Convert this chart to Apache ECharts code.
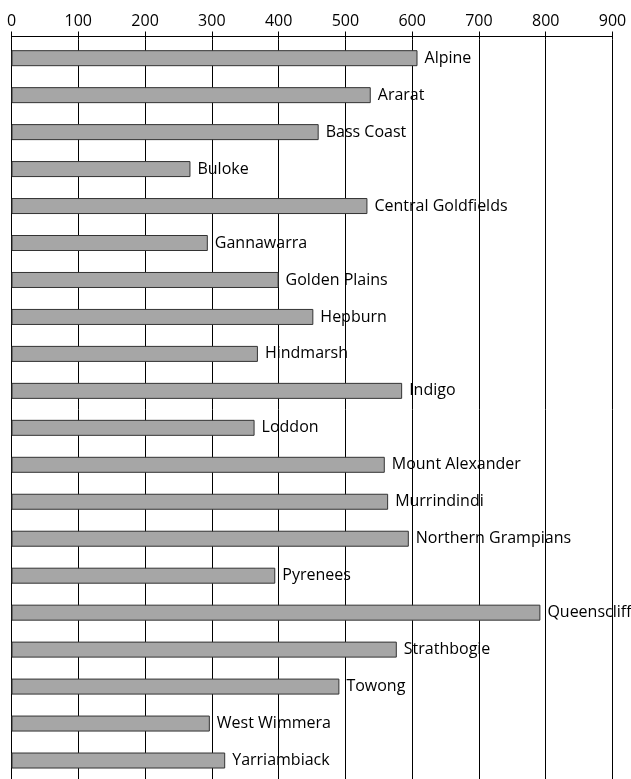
<!DOCTYPE html>
<html>
<head>
<meta charset="utf-8">
<script src="https://cdn.jsdelivr.net/npm/echarts@6/dist/echarts.min.js"></script>
<style>
  html, body { margin: 0; padding: 0; background: #fff; }
  #chart { width: 631px; height: 779px; }
</style>
</head>
<body>
<div id="chart"></div>
<script>
// Victorian councils and their values
const councils = [
  'Alpine', 'Ararat', 'Bass Coast', 'Buloke', 'Central Goldfields',
  'Gannawarra', 'Golden Plains', 'Hepburn', 'Hindmarsh', 'Indigo',
  'Loddon', 'Mount Alexander', 'Murrindindi', 'Northern Grampians', 'Pyrenees',
  'Queenscliffe', 'Strathbogie', 'Towong', 'West Wimmera', 'Yarriambiack'
];
const values = [
  608, 538, 460, 268, 533,
  294, 400, 452, 369, 585,
  364, 559, 564, 595, 395,
  792, 577, 491, 297, 320
];
// Value axis ticks
const axisMin = 0;
const axisMax = 900;
const axisStep = 100;

const font = '"Open Sans", "Noto Sans", sans-serif';
const chart = echarts.init(document.getElementById('chart'), null, { renderer: 'canvas' });

chart.setOption({
  animation: false,
  backgroundColor: '#fff',
  grid: { left: 11.5, top: 39.7, width: 601, height: 740.8, containLabel: false },
  xAxis: [
    {
      type: 'value', position: 'top', offset: 3.7,
      min: axisMin, max: axisMax, interval: axisStep,
      axisLine: { show: true, lineStyle: { color: '#000', width: 1 } },
      axisTick: { show: true, length: 4.5, lineStyle: { color: '#000', width: 1 } },
      axisLabel: { margin: 7, fontSize: 16, color: '#000', fontFamily: font },
      splitLine: { show: true, lineStyle: { color: '#000', width: 1 } }
    },
    {
      // short tick stubs joining the top axis line to the grid lines
      type: 'value', position: 'top', offset: 0,
      min: axisMin, max: axisMax, interval: axisStep,
      axisLine: { show: false },
      axisTick: { show: true, length: 3.7, lineStyle: { color: '#000', width: 1 } },
      axisLabel: { show: false },
      splitLine: { show: false }
    }
  ],
  yAxis: {
    type: 'category', inverse: true, data: councils,
    axisLine: { show: true, lineStyle: { color: '#000', width: 1 } },
    axisTick: { show: false },
    axisLabel: { show: false },
    splitLine: { show: false }
  },
  series: [{
    type: 'bar',
    xAxisIndex: 0,
    data: values,
    barWidth: 16,
    itemStyle: { color: '#a6a6a6', borderColor: '#333', borderWidth: 1 },
    label: {
      show: true, position: 'right', distance: 7,
      formatter: (p) => councils[p.dataIndex],
      color: '#000', fontSize: 16, fontFamily: font
    }
  }]
});
</script>
</body>
</html>
